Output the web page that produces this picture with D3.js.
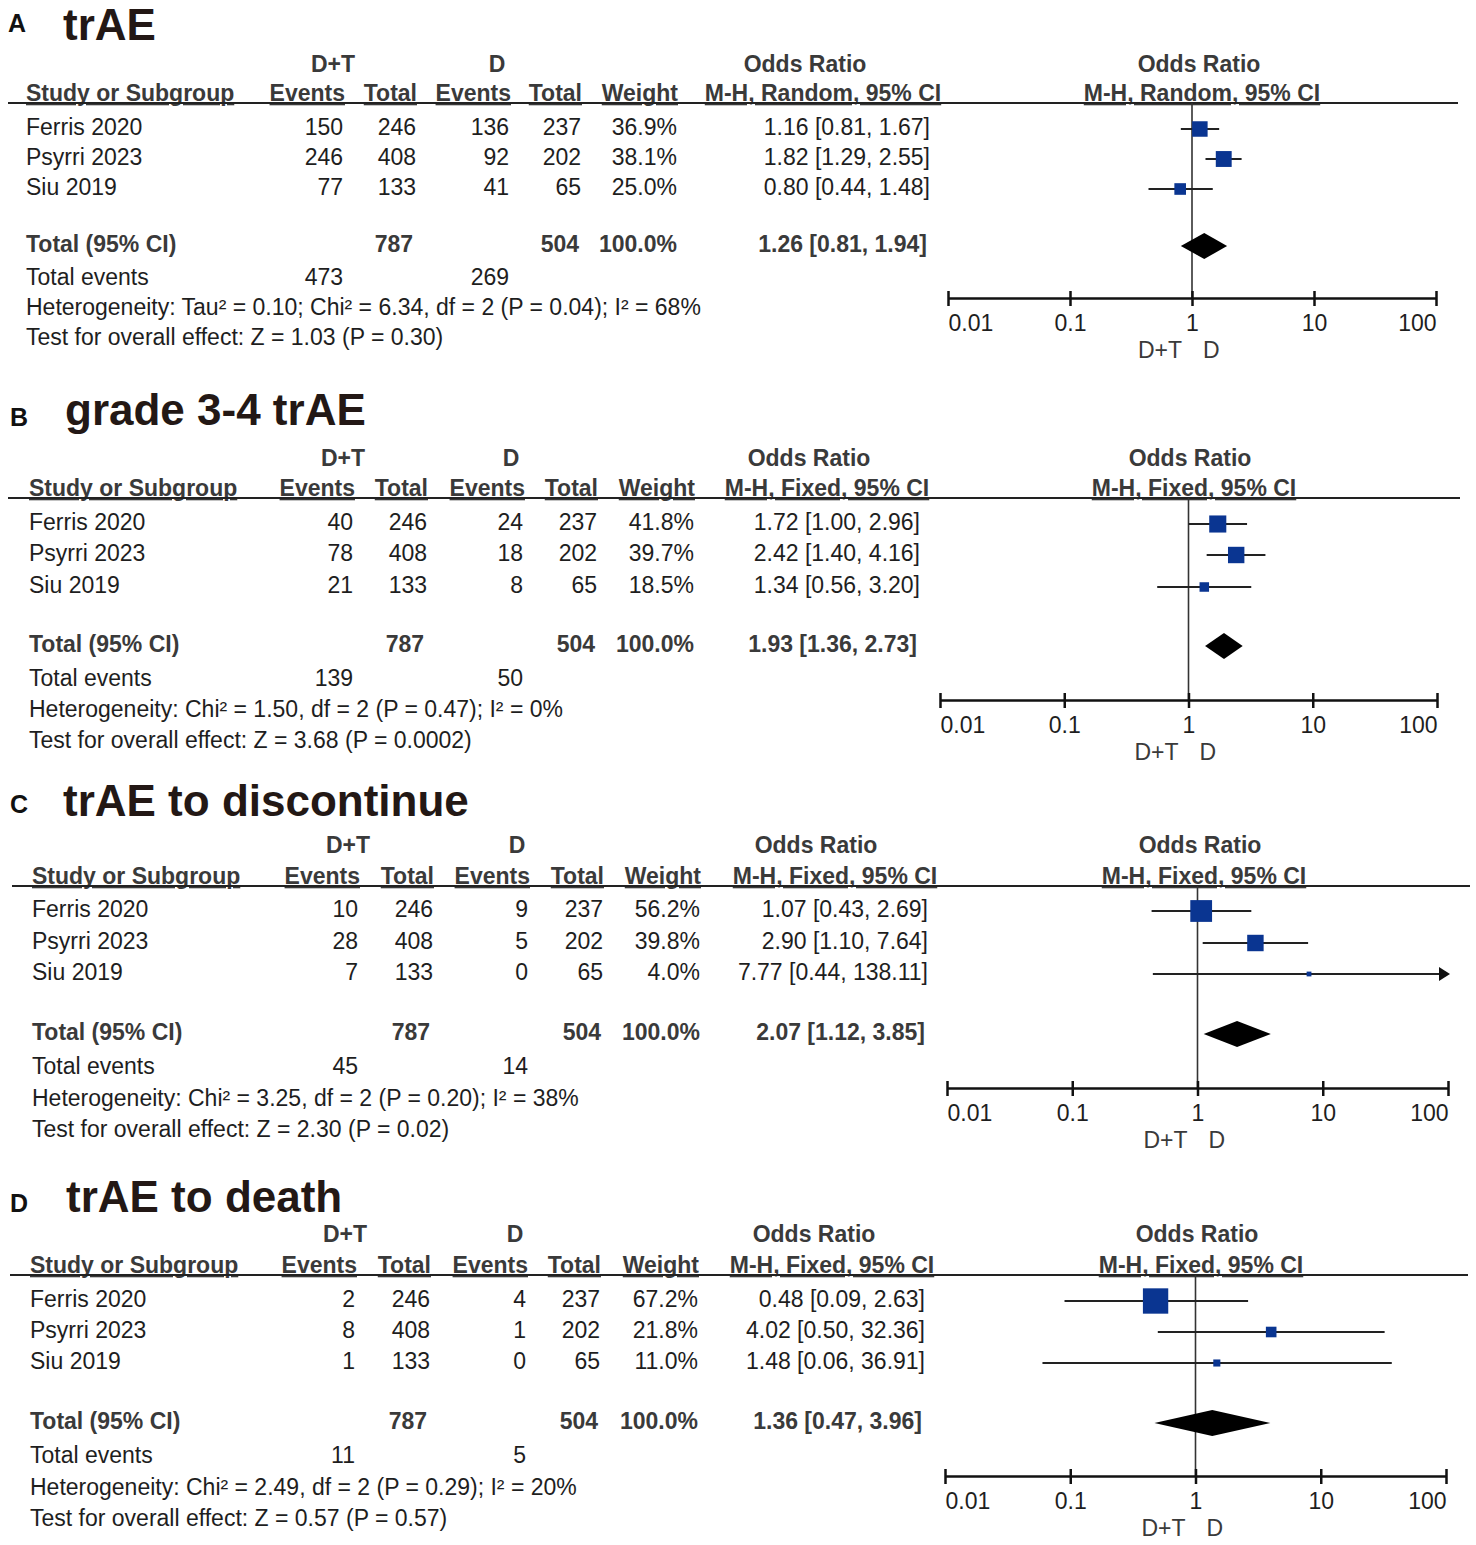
<!DOCTYPE html>
<html>
<head>
<meta charset="utf-8">
<script src="https://cdn.jsdelivr.net/npm/d3@7"></script>
<style>
  body { margin: 0; background: #fff; }
  svg { display: block; font-family: "Liberation Sans", Arial, sans-serif; }
</style>
</head>
<body>
<div id="chart"></div>
<script>
// ---- data ----
const studies = ["Ferris 2020", "Psyrri 2023", "Siu 2019"];
const panelLetters = ["A", "B", "C", "D"];
const panelTitles = ["trAE", "grade 3-4 trAE", "trAE to discontinue", "trAE to death"];
const methods = ["Random", "Fixed", "Fixed", "Fixed"];

const dtEvents = [[150, 246, 77], [40, 78, 21], [10, 28, 7], [2, 8, 1]];
const dtTotals = [246, 408, 133];
const dEvents = [[136, 92, 41], [24, 18, 8], [9, 5, 0], [4, 1, 0]];
const dTotals = [237, 202, 65];
const weights = [[36.9, 38.1, 25.0], [41.8, 39.7, 18.5], [56.2, 39.8, 4.0], [67.2, 21.8, 11.0]];

const orEst = [[1.16, 1.82, 0.80], [1.72, 2.42, 1.34], [1.07, 2.90, 7.77], [0.48, 4.02, 1.48]];
const orLow = [[0.81, 1.29, 0.44], [1.00, 1.40, 0.56], [0.43, 1.10, 0.44], [0.09, 0.50, 0.06]];
const orHigh = [[1.67, 2.55, 1.48], [2.96, 4.16, 3.20], [2.69, 7.64, 138.11], [2.63, 32.36, 36.91]];

const totalOr = [1.26, 1.93, 2.07, 1.36];
const totalLow = [0.81, 1.36, 1.12, 0.47];
const totalHigh = [1.94, 2.73, 3.85, 3.96];
const totalN = [787, 504];
const totalEventsDT = [473, 139, 45, 11];
const totalEventsD = [269, 50, 14, 5];

const heterogeneity = [
  "Heterogeneity: Tau² = 0.10; Chi² = 6.34, df = 2 (P = 0.04); I² = 68%",
  "Heterogeneity: Chi² = 1.50, df = 2 (P = 0.47); I² = 0%",
  "Heterogeneity: Chi² = 3.25, df = 2 (P = 0.20); I² = 38%",
  "Heterogeneity: Chi² = 2.49, df = 2 (P = 0.29); I² = 20%"
];
const overallEffect = [
  "Test for overall effect: Z = 1.03 (P = 0.30)",
  "Test for overall effect: Z = 3.68 (P = 0.0002)",
  "Test for overall effect: Z = 2.30 (P = 0.02)",
  "Test for overall effect: Z = 0.57 (P = 0.57)"
];

const axisTicks = [0.01, 0.1, 1, 10, 100];
const tickLabels = ["0.01", "0.1", "1", "10", "100"];

// ---- layout of each panel (pixel positions) ----
const layouts = [
  {lx: 8, ly: 32, tx: 63, ty: 40, h1: 72, h2: 101, line: 103, l0: 8, l1: 1458,
   rows: [135, 165, 195], total: 252, tev: 285, het: 315, test: 345,
   study: 26, ev1: 343, tot1: 416, ev2: 509, tot2: 581, wt: 677, ci: 930,
   dtC: 333, dC: 497, orC: 805, mhC: 823, pOrC: 1199, pMhC: 1202, ax0: 948, ax1: 1436, axY: 298},
  {lx: 10, ly: 426, tx: 65, ty: 425, h1: 466, h2: 496, line: 498, l0: 8, l1: 1460,
   rows: [530, 561, 593], total: 652, tev: 686, het: 717, test: 748,
   study: 29, ev1: 353, tot1: 427, ev2: 523, tot2: 597, wt: 694, ci: 920,
   dtC: 343, dC: 511, orC: 809, mhC: 827, pOrC: 1190, pMhC: 1194, ax0: 940, ax1: 1437, axY: 700},
  {lx: 10, ly: 813, tx: 63, ty: 816, h1: 853, h2: 884, line: 886, l0: 12, l1: 1470,
   rows: [917, 949, 980], total: 1040, tev: 1074, het: 1106, test: 1137,
   study: 32, ev1: 358, tot1: 433, ev2: 528, tot2: 603, wt: 700, ci: 928,
   dtC: 348, dC: 517, orC: 816, mhC: 835, pOrC: 1200, pMhC: 1204, ax0: 947, ax1: 1448, axY: 1088},
  {lx: 10, ly: 1212, tx: 66, ty: 1212, h1: 1242, h2: 1273, line: 1275, l0: 10, l1: 1468,
   rows: [1307, 1338, 1369], total: 1429, tev: 1463, het: 1495, test: 1526,
   study: 30, ev1: 355, tot1: 430, ev2: 526, tot2: 600, wt: 698, ci: 925,
   dtC: 345, dC: 515, orC: 814, mhC: 832, pOrC: 1197, pMhC: 1201, ax0: 945, ax1: 1446, axY: 1476}
];

const width = 1476;
const height = 1545;
const fs = 23;
const textCol = "#1e1e1e";
const headCol = "#3a3a3a";
const boxCol = "#0a3591";

const svg = d3.select('#chart')
  .append('svg')
  .attr('width', width)
  .attr('height', height)
  .attr('viewBox', [0, 0, width, height]);

function txt(g, x, y, s, o = {}) {
  return g.append('text')
    .attr('x', x)
    .attr('y', y)
    .attr('text-anchor', o.anchor || 'start')
    .attr('font-weight', o.bold ? 'bold' : 'normal')
    .attr('font-size', o.size || fs)
    .attr('fill', o.fill || textCol)
    .attr('text-decoration', o.underline ? 'underline' : null)
    .text(s);
}

const fmt2 = d3.format('.2f');
const ciText = (e, l, h) => `${fmt2(e)} [${fmt2(l)}, ${fmt2(h)}]`;
const size = d3.scaleLinear().domain([0, 100]).range([3.5, 36]);

layouts.forEach((L, p) => {
  const g = svg.append('g');

  // panel letter and title
  txt(g, L.lx, L.ly, panelLetters[p], {bold: true, size: 25, fill: '#111'});
  txt(g, L.tx, L.ty, panelTitles[p], {bold: true, size: 44, fill: '#231815'});

  // header row 1
  const hb = {bold: true, fill: headCol, anchor: 'middle'};
  txt(g, L.dtC, L.h1, 'D+T', hb);
  txt(g, L.dC, L.h1, 'D', hb);
  txt(g, L.orC, L.h1, 'Odds Ratio', hb);
  txt(g, L.pOrC, L.h1, 'Odds Ratio', hb);

  // header row 2
  const hr = {bold: true, fill: headCol, anchor: 'end', underline: true};
  txt(g, L.study, L.h2, 'Study or Subgroup', {bold: true, fill: headCol, underline: true});
  txt(g, L.ev1 + 2, L.h2, 'Events', hr);
  txt(g, L.tot1 + 1, L.h2, 'Total', hr);
  txt(g, L.ev2 + 2, L.h2, 'Events', hr);
  txt(g, L.tot2 + 1, L.h2, 'Total', hr);
  txt(g, L.wt + 1, L.h2, 'Weight', hr);
  const mh = `M-H, ${methods[p]}, 95% CI`;
  txt(g, L.mhC, L.h2, mh, {bold: true, fill: headCol, anchor: 'middle', underline: true});
  txt(g, L.pMhC, L.h2, mh, {bold: true, fill: headCol, anchor: 'middle', underline: true});

  g.append('line')
    .attr('x1', L.l0).attr('x2', L.l1)
    .attr('y1', L.line).attr('y2', L.line)
    .attr('stroke', '#222').attr('stroke-width', 2);

  // study rows
  studies.forEach((s, i) => {
    const y = L.rows[i];
    txt(g, L.study, y, s);
    txt(g, L.ev1, y, dtEvents[p][i], {anchor: 'end'});
    txt(g, L.tot1, y, dtTotals[i], {anchor: 'end'});
    txt(g, L.ev2, y, dEvents[p][i], {anchor: 'end'});
    txt(g, L.tot2, y, dTotals[i], {anchor: 'end'});
    txt(g, L.wt, y, d3.format('.1f')(weights[p][i]) + '%', {anchor: 'end'});
    txt(g, L.ci, y, ciText(orEst[p][i], orLow[p][i], orHigh[p][i]), {anchor: 'end'});
  });

  // total rows
  const tb = {bold: true, fill: headCol, anchor: 'end'};
  txt(g, L.study, L.total, 'Total (95% CI)', {bold: true, fill: headCol});
  txt(g, L.tot1 - 3, L.total, totalN[0], tb);
  txt(g, L.tot2 - 2, L.total, totalN[1], tb);
  txt(g, L.wt, L.total, '100.0%', tb);
  txt(g, L.ci - 3, L.total, ciText(totalOr[p], totalLow[p], totalHigh[p]), tb);

  txt(g, L.study, L.tev, 'Total events');
  txt(g, L.ev1, L.tev, totalEventsDT[p], {anchor: 'end'});
  txt(g, L.ev2, L.tev, totalEventsD[p], {anchor: 'end'});
  txt(g, L.study, L.het, heterogeneity[p]);
  txt(g, L.study, L.test, overallEffect[p]);

  // forest plot
  const x = d3.scaleLog().domain([0.01, 100]).range([L.ax0, L.ax1]);
  const off = -6;

  g.append('line')
    .attr('x1', x(1)).attr('x2', x(1))
    .attr('y1', L.line).attr('y2', L.axY)
    .attr('stroke', '#333').attr('stroke-width', 1.6);

  const rowData = studies.map((s, i) => ({
    y: L.rows[i] + off, est: orEst[p][i], lo: orLow[p][i], hi: orHigh[p][i], w: weights[p][i]
  }));

  g.append('g').selectAll('line')
    .data(rowData)
    .join('line')
      .attr('x1', d => x(Math.max(d.lo, 0.01)))
      .attr('x2', d => x(Math.min(d.hi, 100)))
      .attr('y1', d => d.y).attr('y2', d => d.y)
      .attr('stroke', '#222').attr('stroke-width', 2);

  // arrows for CIs running past the axis
  g.append('g').selectAll('path')
    .data(rowData.filter(d => d.hi > 100))
    .join('path')
      .attr('d', d => `M${x(100) - 9},${d.y - 7}L${x(100) + 2},${d.y}L${x(100) - 9},${d.y + 7}Z`)
      .attr('fill', '#111');

  g.append('g').selectAll('rect')
    .data(rowData)
    .join('rect')
      .attr('x', d => x(d.est) - size(d.w) / 2)
      .attr('y', d => d.y - size(d.w) / 2)
      .attr('width', d => size(d.w))
      .attr('height', d => size(d.w))
      .attr('fill', boxCol);

  const dy = L.total + off;
  g.append('path')
    .attr('d', `M${x(totalLow[p])},${dy}L${x(totalOr[p])},${dy - 13}L${x(totalHigh[p])},${dy}L${x(totalOr[p])},${dy + 13}Z`)
    .attr('fill', '#000');

  // axis
  const axis = d3.axisBottom(x)
    .tickValues(axisTicks)
    .tickFormat((d, i) => tickLabels[i])
    .tickSizeOuter(0);
  const ag = g.append('g')
    .attr('transform', `translate(0,${L.axY})`)
    .call(axis);
  ag.select('.domain').attr('stroke', '#111').attr('stroke-width', 2.5);
  ag.selectAll('.tick line')
    .attr('y1', -7).attr('y2', 8)
    .attr('stroke', '#111').attr('stroke-width', 2.5);
  ag.selectAll('.tick text')
    .attr('y', 33).attr('dy', null)
    .attr('font-size', fs)
    .attr('font-family', '"Liberation Sans", Arial, sans-serif')
    .attr('fill', textCol)
    .attr('text-anchor', (d, i) => i === 0 ? 'start' : i === axisTicks.length - 1 ? 'end' : 'middle');

  txt(g, x(1) - 10, L.axY + 60, 'D+T', {anchor: 'end', fill: headCol});
  txt(g, x(1) + 11, L.axY + 60, 'D', {fill: headCol});
});

svg.node();
</script>
</body>
</html>
